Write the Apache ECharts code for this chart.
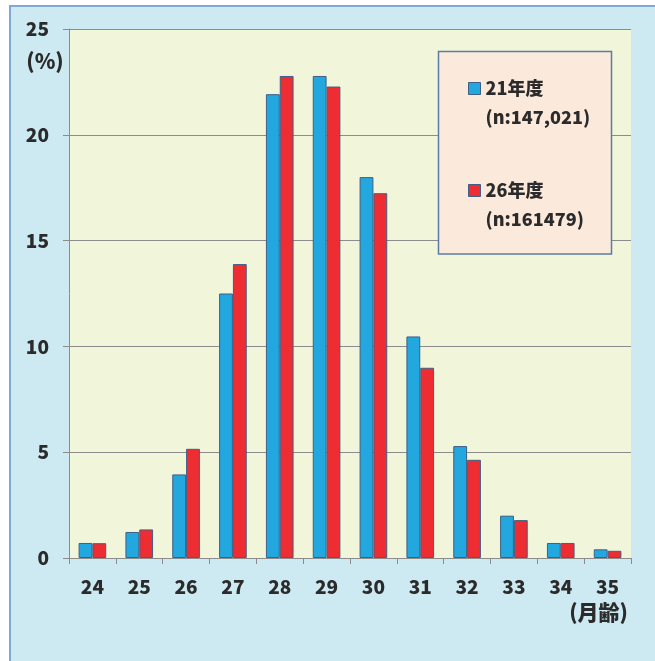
<!DOCTYPE html>
<html>
<head>
<meta charset="utf-8">
<style>
  html, body { margin: 0; padding: 0; background: #ffffff; }
  #chart { width: 655px; height: 661px; }
</style>
<script src="https://cdn.jsdelivr.net/npm/echarts@6/dist/echarts.min.js"></script>
</head>
<body>
<div id="chart"></div>
<script>
// 月齢 (months of age) categories
const ageMonths = ['24', '25', '26', '27', '28', '29', '30', '31', '32', '33', '34', '35'];

// Share of children per month of age (%)
const fy21Values = [0.71, 1.23, 3.95, 12.5, 21.92, 22.78, 18.0, 10.47, 5.29, 2.0, 0.71, 0.41];
const fy26Values = [0.70, 1.35, 5.16, 13.89, 22.78, 22.28, 17.24, 8.99, 4.64, 1.79, 0.71, 0.34];

// Series names and sample sizes
const seriesNames = ['21年度', '26年度'];
const sampleSizes = ['(n:147,021)', '(n:161479)'];

// Value axis ticks
const yTicks = [0, 5, 10, 15, 20, 25];

const FONT = '"Noto Sans CJK JP", "Noto Sans", sans-serif';
const TEXT = '#2b2b2b';
const GRID = '#8c8c8c';
const BLUE = '#22a7df';
const RED = '#ee2d32';
const EDGE = '#3e5f86';

const chart = echarts.init(document.getElementById('chart'), null, { renderer: 'canvas' });

const lineH = 29;

chart.setOption({
  animation: false,
  backgroundColor: '#ffffff',
  textStyle: { fontFamily: FONT },
  grid: {
    left: 69, top: 29, right: 24, bottom: 103,
    show: true, backgroundColor: '#f1f5d9', borderWidth: 0
  },
  graphic: [
    {
      type: 'rect', z: -10, silent: true,
      shape: { x: 10, y: 6, width: 660, height: 670 },
      style: { fill: '#cde9f1', stroke: '#80a9d2', lineWidth: 2 }
    },
    {
      type: 'rect', z: 5, silent: true,
      shape: { x: 438.5, y: 51.5, width: 173, height: 202.5 },
      style: { fill: '#fbe9dc', stroke: '#5a7ca6', lineWidth: 1.5 }
    },
    {
      type: 'text', z: 6, silent: true,
      style: { text: '(%)', x: 45, y: 61, align: 'center', verticalAlign: 'middle',
               font: '900 21px ' + FONT, fill: TEXT }
    },
    {
      type: 'text', z: 6, silent: true,
      style: { text: '(月齢)', x: 628, y: 612, align: 'right', verticalAlign: 'middle',
               font: '900 21px ' + FONT, fill: TEXT }
    }
  ],
  legend: {
    orient: 'vertical',
    left: 468, top: 45,
    padding: 0,
    itemWidth: 12, itemHeight: 12,
    itemGap: 15,
    z: 10,
    icon: 'rect',
    data: seriesNames,
    itemStyle: { borderColor: EDGE, borderWidth: 1 },
    // blank first line keeps the name line level with the swatch
    formatter: function (name) {
      return ' \n' + name + '\n' + sampleSizes[seriesNames.indexOf(name)];
    },
    textStyle: {
      fontFamily: FONT, fontWeight: 900, fontSize: 18, color: TEXT,
      lineHeight: lineH
    }
  },
  xAxis: {
    type: 'category',
    data: ageMonths,
    boundaryGap: true,
    axisLine: { show: true, lineStyle: { color: GRID, width: 1 } },
    axisTick: { show: true, length: 6, interval: 0, lineStyle: { color: GRID } },
    axisLabel: { margin: 19, fontFamily: FONT, fontWeight: 900, fontSize: 19, color: TEXT, interval: 0 },
    splitLine: { show: false }
  },
  yAxis: {
    type: 'value',
    min: yTicks[0], max: yTicks[yTicks.length - 1], interval: 5,
    axisLine: { show: true, lineStyle: { color: GRID, width: 1 } },
    axisTick: { show: true, length: 6, lineStyle: { color: GRID } },
    axisLabel: { margin: 20, fontFamily: FONT, fontWeight: 900, fontSize: 19, color: TEXT },
    splitLine: { show: true, lineStyle: { color: GRID, width: 1 } }
  },
  series: [
    {
      name: seriesNames[0], type: 'bar', data: fy21Values,
      barGap: '0%', barCategoryGap: '41%',
      itemStyle: { color: BLUE, borderColor: EDGE, borderWidth: 1 }
    },
    {
      name: seriesNames[1], type: 'bar', data: fy26Values,
      barGap: '0%', barCategoryGap: '41%',
      itemStyle: { color: RED, borderColor: EDGE, borderWidth: 1 }
    }
  ]
});
</script>
</body>
</html>
